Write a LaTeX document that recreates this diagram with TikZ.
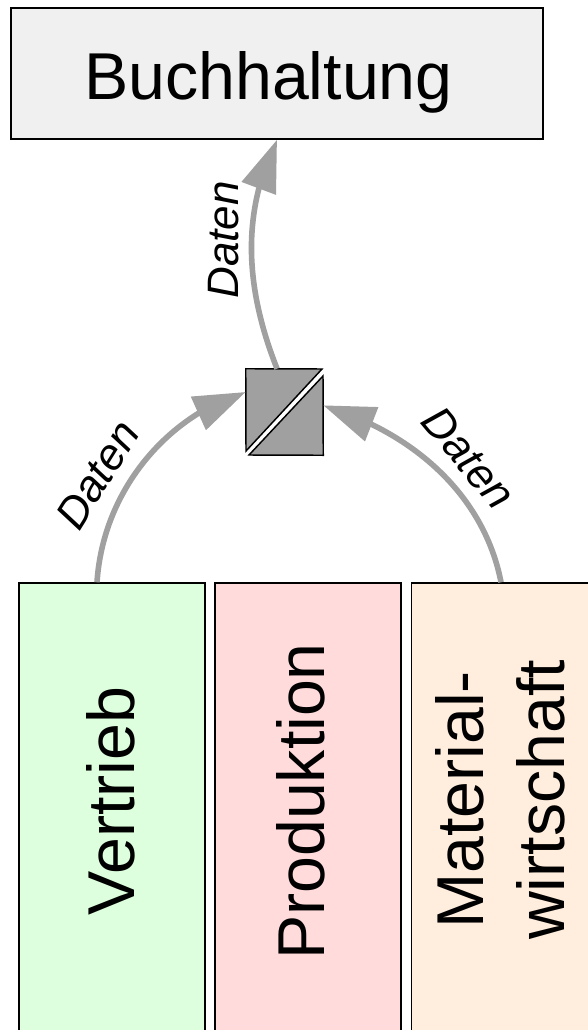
\documentclass[tikz,border=0pt]{standalone}
\usepackage{fontspec}
\setmainfont{Liberation Sans}
\usetikzlibrary{arrows.meta, bending}
\definecolor{flowgray}{HTML}{A0A0A0}
\tikzset{
  dept/.style={draw, line width=1.1pt, minimum width=139.5pt, minimum height=342.75pt},
  bigtext/.style={inner sep=0pt, align=center, font=\fontsize{49.7}{60.5}\selectfont},
  flow/.style={draw=flowgray, line width=4.2pt, -{Triangle[length=39pt, width=26.5pt, flex=1]}},
  datalabel/.style={inner sep=0pt, font=\fontsize{33}{40}\selectfont\itshape}
}
\begin{document}
\begin{tikzpicture}[x=0.75pt, y=-0.75pt]
  \path[use as bounding box, clip] (0,0) rectangle (588,1030);

  % Define boxes
  \node[draw, line width=1.1pt, fill=black!6, minimum width=399pt, minimum height=98.25pt] (buchhaltung) at (277,73.5) {};
  \node[dept, fill=green!13] (vertrieb) at (112,811.5) {};
  \node[dept, fill=red!14] (produktion) at (308,811.5) {};
  \node[dept, fill=orange!13] (material) at (504.5,811.5) {};

  % Add box texts
  \node[bigtext] (buchhaltungtext) at (268.5,82) {Buchhaltung};
  \node[bigtext, rotate=90] (vertriebtext) at (111,801) {Vertrieb};
  \node[bigtext, rotate=90] (produktiontext) at (300.5,801.5) {Produktion};
  \node[bigtext, rotate=90] (materialtext) at (500.5,800) {Material-\\wirtschaft};

  % Draw converter
  \node[minimum width=57.75pt, minimum height=64.5pt, inner sep=0pt] (wandler) at (284.5,412) {};
  \draw[line width=1.1pt, fill=flowgray] (wandler.north west) -- (322,369) -- (246,451) -- cycle;
  \draw[line width=1.1pt, fill=flowgray] (wandler.south east) -- (323,376) -- (249,455) -- cycle;

  % Draw arrows
  \draw[flow] ([xshift=-11.25pt]vertrieb.north) .. controls (103,490) and (168,415) .. ([yshift=15pt]wandler.west);
  \draw[flow] ([xshift=-2.6pt]material.north) .. controls (485,500) and (420,435) .. ([yshift=5pt]wandler.east);
  \draw[flow] ([xshift=-5.6pt]wandler.north) .. controls (246,290) and (240,215) .. (buchhaltung.south);

  % Add data labels
  \node[datalabel, rotate=90] (daten1) at (224,240) {Daten};
  \node[datalabel, rotate=58] (daten2) at (97.5,475) {Daten};
  \node[datalabel, rotate=-50] (daten3) at (469,458) {Daten};
\end{tikzpicture}
\end{document}
